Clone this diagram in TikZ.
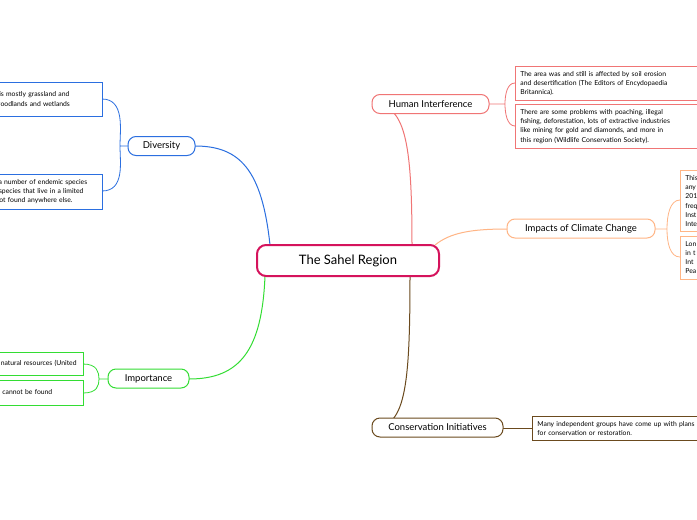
\documentclass[tikz,border=0pt]{standalone}
\usepackage{fontspec}
\setmainfont{Lato}
\usetikzlibrary{positioning}
\definecolor{rootc}{HTML}{D5135C}
\definecolor{divc}{HTML}{2B6FE0}
\definecolor{impc}{HTML}{33DD33}
\definecolor{humc}{HTML}{F07575}
\definecolor{climc}{HTML}{FFB585}
\definecolor{consc}{HTML}{6B4A1E}
\tikzset{
	topic/.style={draw, rounded corners=8pt, line width=1pt, fill=white, font=\fontsize{9.5}{11}\selectfont, inner sep=0pt, minimum height=19pt},
	leaf/.style={draw, line width=0.8pt, fill=white, font=\fontsize{6.8}{9.2}\selectfont, align=left, inner sep=5pt, anchor=north west}
}
\begin{document}
\begin{tikzpicture}[x=1pt, y=-1pt]
	\useasboundingbox (0,0) rectangle (697,520);
	\clip (0,0) rectangle (697,520);
	\fill[white] (0,0) rectangle (697,520);
	
	% --- connectors
	\draw[divc, line width=1pt] (270,245) .. controls (262,170) and (240,146) .. (195,146);
	\draw[impc, line width=1pt] (265,276) .. controls (262,350) and (240,379) .. (189,379);
	\draw[humc, line width=1pt] (412,245) .. controls (412,140) and (405,104) .. (372,104);
	\draw[climc, line width=1pt] (435,245) .. controls (450,233) and (470,229) .. (507,229);
	\draw[consc, line width=1pt] (410,276) .. controls (410,390) and (405,428) .. (372,428);
	
	% --- brackets
	\draw[divc, line width=0.8pt] (128,146) -- (120,146) (102,99) .. controls (125,99) and (120,130) .. (120,146) .. controls (120,162) and (125,191) .. (102,191);
	\draw[impc, line width=0.8pt] (108,379) -- (99,379) (83,364) .. controls (97,364) and (99,372) .. (99,379) .. controls (99,386) and (97,393) .. (83,393);
	\draw[humc, line width=0.8pt] (489,104) -- (505,104) (515,83) .. controls (507,83) and (505,95) .. (505,104) .. controls (505,113) and (507,126) .. (515,126);
	\draw[climc, line width=0.8pt] (655,229) -- (667,229) (680,200) .. controls (670,200) and (667,215) .. (667,229) .. controls (667,243) and (670,257) .. (680,257);
	\draw[consc, line width=0.8pt] (503,428) -- (532,428);
	
	% --- root
	\node[draw=rootc, line width=2pt, rounded corners=9pt, fill=white, minimum width=182pt, minimum height=31pt, font=\fontsize{13}{15}\selectfont] (Root) at (348,260.5) {The Sahel Region};
	
	% --- topics
	\node[topic, draw=divc, minimum width=67pt] (Diversity) at (161.5,146) {Diversity};
	\node[topic, draw=impc, minimum width=81pt] (Importance) at (148.5,378.5) {Importance};
	\node[topic, draw=humc, minimum width=117pt] (HumanInt) at (430.5,104) {Human Interference};
	\node[topic, draw=climc, minimum width=148pt] (Climate) at (581,228.5) {Impacts of Climate Change};
	\node[topic, draw=consc, minimum width=131pt] (Conserv) at (437.5,427.5) {Conservation Initiatives};
	
	% --- leaves
	\node[leaf, draw=divc, text width=130pt, minimum height=34pt] (Div-A) at (-38,82) {The Sahel is mostly grassland and\\ savanna, woodlands and wetlands};
	\node[leaf, draw=divc, text width=130pt, minimum height=34pt] (Div-B) at (-38,174) {There are a number of endemic species\\ which are species that live in a limited\\ area and not found anywhere else.};
	\node[leaf, draw=impc, text width=115pt, minimum height=23pt] (Imp-A) at (-42,352) {It has many natural resources (United};
	\node[leaf, draw=impc, text width=115pt, minimum height=25pt] (Imp-B) at (-42,380) {Species that cannot be found};
	\node[leaf, draw=humc, text width=172pt, minimum height=34pt] (Hum-A) at (515,66) {The area was and still is affected by soil erosion\\ and desertification (The Editors of Encydopaedia\\ Britannica).};
	\node[leaf, draw=humc, text width=172pt, minimum height=44pt] (Hum-B) at (515,104) {There are some problems with poaching, illegal\\ fishing, deforestation, lots of extractive industries\\ like mining for gold and diamonds, and more in\\ this region (Wildlife Conservation Society).};
	\node[leaf, draw=climc, text width=90pt, minimum height=61pt] (Clim-A) at (680,170) {This\\ any\\ 201\\ freq\\ Inst\\ Inte};
	\node[leaf, draw=climc, text width=90pt, minimum height=42pt] (Clim-B) at (680,236) {Lon\\ in t\\ Int\\ Pea};
	\node[leaf, draw=consc, text width=190pt, minimum height=24pt] (Cons-A) at (532,416) {Many independent groups have come up with plans\\ for conservation or restoration.};
\end{tikzpicture}
\end{document}
